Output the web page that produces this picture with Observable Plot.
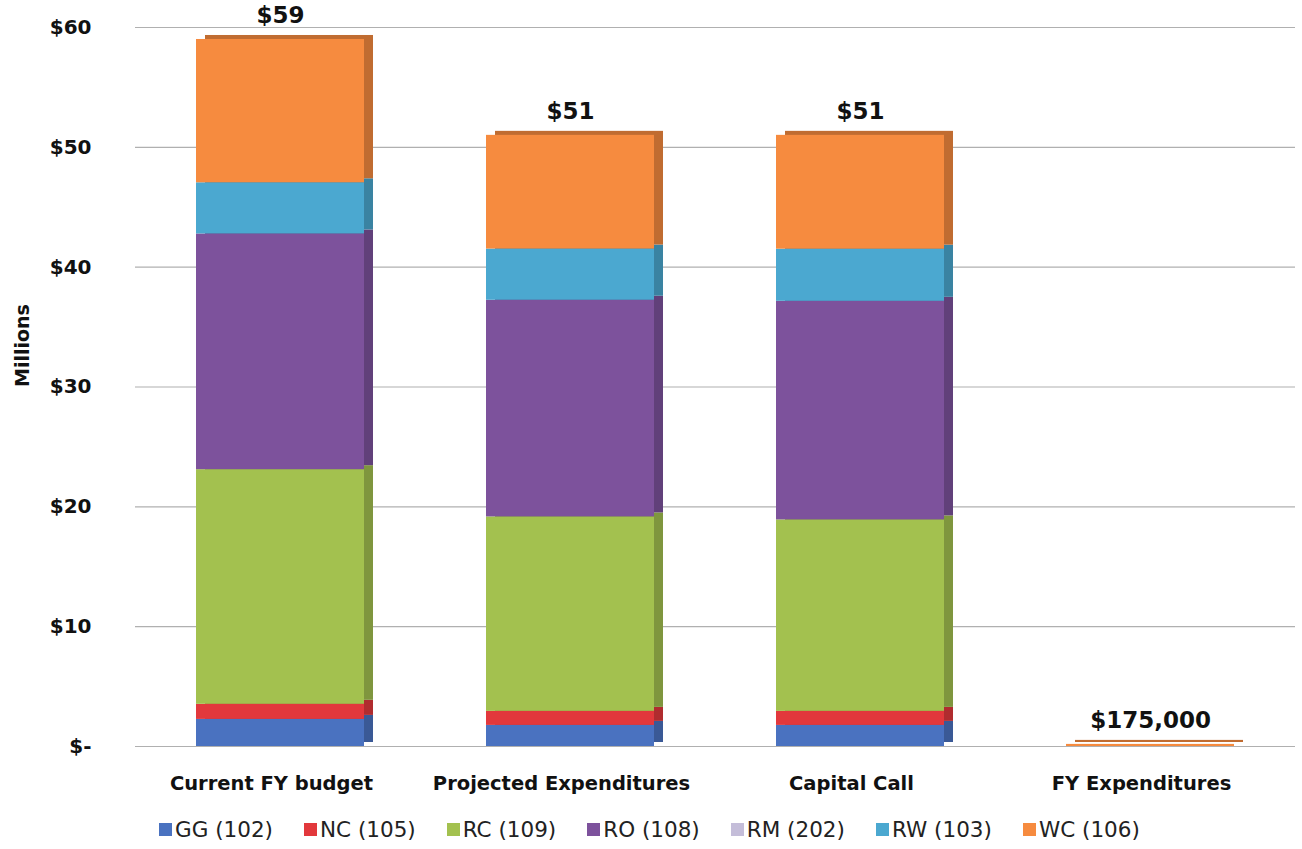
<!DOCTYPE html>
<html>
<head>
<meta charset="utf-8">
<script src="https://cdn.jsdelivr.net/npm/d3@7"></script>
<script src="https://cdn.jsdelivr.net/npm/@observablehq/plot@0.6"></script>
<style>
  body { margin: 0; background: #fff; font-family: "DejaVu Sans", sans-serif; }
  #chart { position: relative; width: 1302px; }
  #legend { display: flex; margin-left: 159px; margin-top: 17px; font-family: "DejaVu Sans", sans-serif; font-size: 21.5px; color: #222; }
  #legend .item { display: flex; align-items: center; margin-right: 31px; }
  #legend .sw { width: 13px; height: 13px; margin-right: 3px; }
</style>
</head>
<body>
<div id="chart"></div>
<script>
const categories = ["Current FY budget", "Projected Expenditures", "Capital Call", "FY Expenditures"];
const series = ["GG (102)", "NC (105)", "RC (109)", "RO (108)", "RM (202)", "RW (103)", "WC (106)"];
const GG = [2.26, 1.76, 1.76, 0];
const NC = [1.26, 1.17, 1.17, 0];
const RC = [19.58, 16.23, 15.98, 0];
const RO = [19.67, 18.08, 18.24, 0];
const RM = [0, 0, 0, 0];
const RW = [4.27, 4.27, 4.35, 0];
const WC = [11.96, 9.49, 9.50, 0.175];
const totals = [59, 51, 51, 0.175];
const totalLabels = ["$59", "$51", "$51", "$175,000"];
const yTicks = [0, 10, 20, 30, 40, 50, 60];
const colors = ["#4a72c0", "#e2383c", "#a3c14f", "#7d529c", "#c4bdd9", "#4ba8d0", "#f68b3f"];

const valuesBySeries = [GG, NC, RC, RO, RM, RW, WC];
const rows = [];
categories.forEach((c, i) => {
  let acc = 0;
  series.forEach((s, j) => {
    const v = valuesBySeries[j][i];
    rows.push({category: c, series: s, value: v, y1: acc, y2: acc + v});
    acc += v;
  });
});
const visible = rows.filter(d => d.value > 0);
const totalRows = categories.map((c, i) => ({category: c, total: totals[i], label: totalLabels[i]}));

const sideMarks = series.map((s, j) =>
  Plot.barY(visible.filter(d => d.series === s), {
    x: "category", y1: "y1", y2: "y2",
    fill: d3.color(colors[j]).darker(0.7).formatHex(),
    dx: 9, dy: -4
  })
);

const chart = Plot.plot({
  width: 1302,
  height: 800,
  marginTop: 27,
  marginBottom: 54,
  marginLeft: 135,
  marginRight: 7,
  style: {fontFamily: "DejaVu Sans, sans-serif", background: "#fff"},
  x: {domain: categories, paddingInner: 0.42, paddingOuter: 0.21, label: null},
  y: {domain: [0, 60], label: null},
  color: {domain: series, range: colors},
  marks: [
    Plot.ruleY(yTicks, {stroke: "#b0b0b0", strokeWidth: 1.2}),
    Plot.axisY({ticks: yTicks, tickSize: 0, tickPadding: 44, tickFormat: d => d === 0 ? "$-" : "$" + d,
      fontSize: 20, fontWeight: "bold", fill: "#111", label: null}),
    Plot.axisX({tickSize: 0, tickPadding: 30, fontSize: 19.5, fontWeight: "bold", fill: "#111", label: null, dx: -9}),
    Plot.text(["Millions"], {frameAnchor: "left", dx: -113, rotate: -90, fontSize: 19, fontWeight: "bold", fill: "#111"}),
    ...sideMarks,
    Plot.barY(visible, {x: "category", y1: "y1", y2: "y2", fill: "series"}),
    Plot.text(totalRows, {x: "category", y: "total", text: "label", dy: -24, fontSize: 23, fontWeight: "bold", fill: "#111"})
  ]
});
document.getElementById("chart").appendChild(chart);

const legend = document.createElement("div");
legend.id = "legend";
series.forEach((s, j) => {
  const item = document.createElement("div");
  item.className = "item";
  const sw = document.createElement("span");
  sw.className = "sw";
  sw.style.background = colors[j];
  const t = document.createElement("span");
  t.textContent = s;
  item.appendChild(sw);
  item.appendChild(t);
  legend.appendChild(item);
});
document.getElementById("chart").appendChild(legend);
</script>
</body>
</html>
